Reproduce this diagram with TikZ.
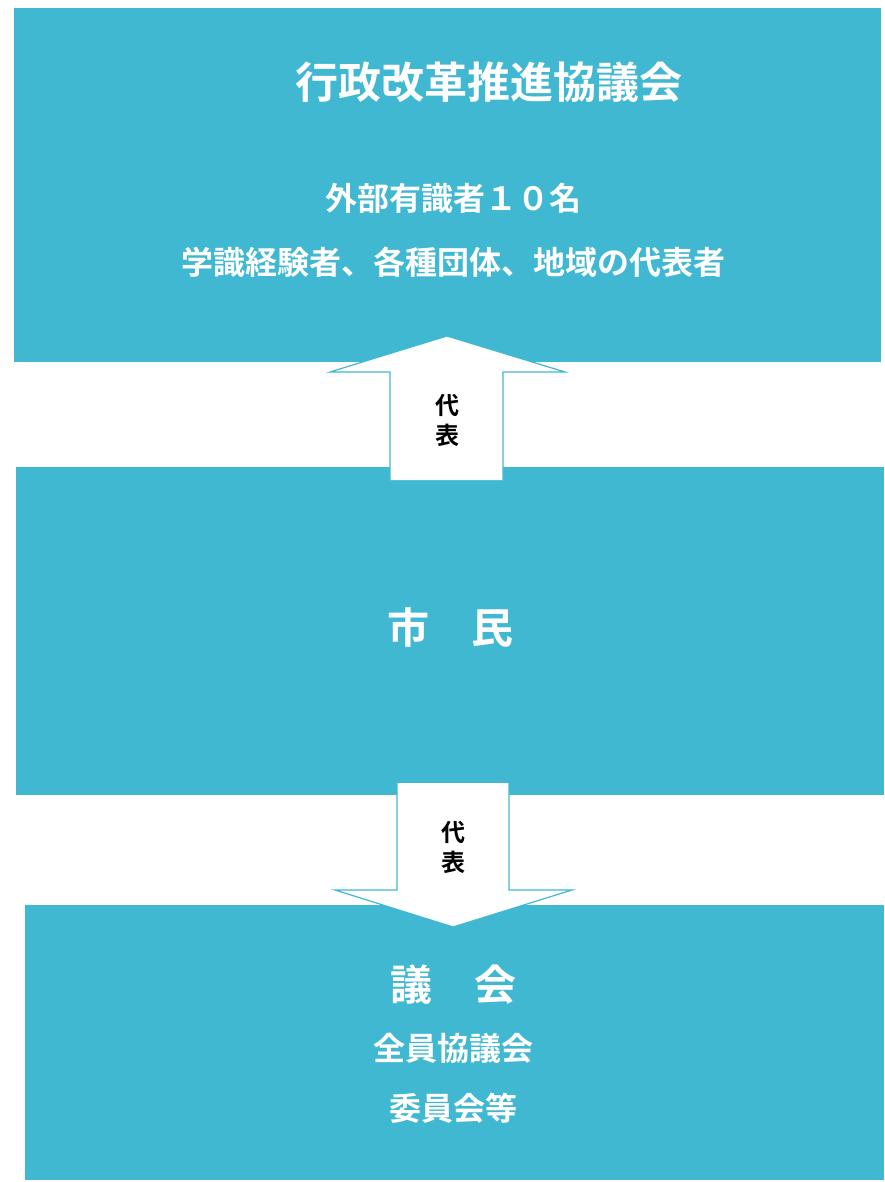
\documentclass[tikz,border=0pt]{standalone}
\usepackage{fontspec}
\setmainfont{Noto Sans CJK JP}[BoldFont={* Bold}]
\definecolor{boxblue}{HTML}{41B8D2}
\tikzset{
  panel/.style={fill=boxblue, draw=none},
  bigarrow/.style={fill=white, draw=boxblue, line width=1.2pt, line join=miter},
  wtext/.style={text=white, font=\bfseries, inner sep=0pt, anchor=center},
  atext/.style={text=black, font=\bfseries\fontsize{24}{30}\selectfont, align=center, inner sep=0pt}
}
\begin{document}
\begin{tikzpicture}[x=1pt,y=-1pt]
\useasboundingbox (0,0) rectangle (884,1182);
% panels
\path[panel] (14,8) rectangle (881,362);
\path[panel] (16,467) rectangle (884,795);
\path[panel] (25,905) rectangle (884,1180);
% up arrow
\draw[bigarrow] (390,480) -- (390,372) -- (330,372) -- (447,336) -- (565,372) -- (503,372) -- (503,480);
\node[atext] (a1) at (447,420) {代\\表};
% down arrow
\draw[bigarrow] (397,783) -- (397,890) -- (335,890) -- (453,927) -- (572,890) -- (509,890) -- (509,783);
\node[atext] (a2) at (453,847) {代\\表};
% texts
\node[wtext, font=\bfseries\fontsize{43}{46}\selectfont] (t1) at (489,82) {行政改革推進協議会};
\node[wtext, font=\bfseries\fontsize{32}{34}\selectfont] (t2) at (453,198) {外部有識者１０名};
\node[wtext, font=\bfseries\fontsize{32}{34}\selectfont] (t3) at (453,262) {学識経験者、各種団体、地域の代表者};
\node[wtext, font=\bfseries\fontsize{42}{46}\selectfont] (t4) at (450,627) {市　民};
\node[wtext, font=\bfseries\fontsize{42}{46}\selectfont] (t5) at (453,985) {議　会};
\node[wtext, font=\bfseries\fontsize{32}{34}\selectfont] (t6) at (453,1048) {全員協議会};
\node[wtext, font=\bfseries\fontsize{32}{34}\selectfont] (t7) at (453,1108) {委員会等};
\end{tikzpicture}
\end{document}
